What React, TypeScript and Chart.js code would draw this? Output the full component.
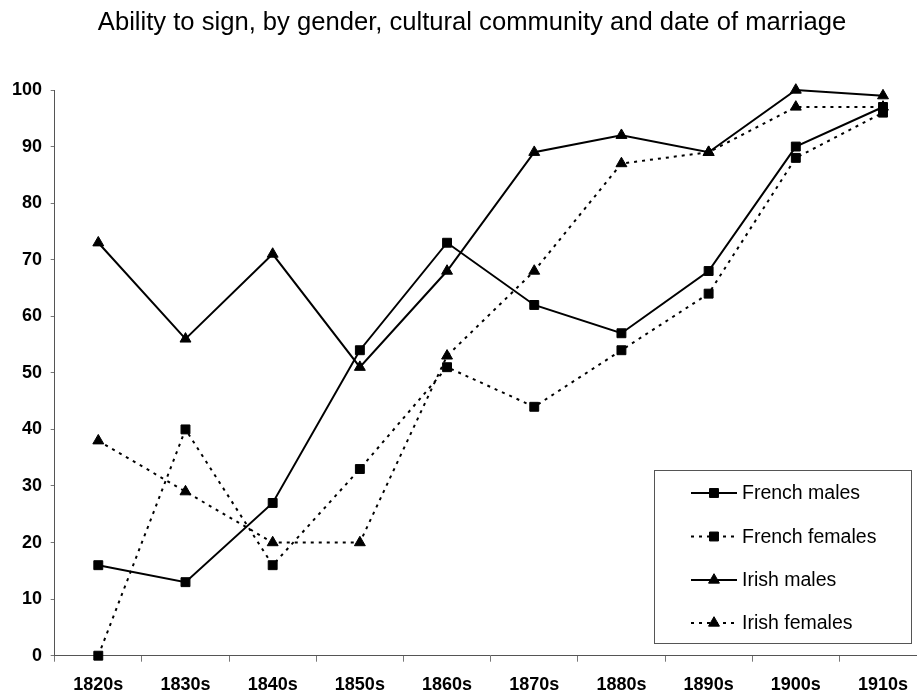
import React, { useEffect, useRef } from "react";
import { Chart, registerables } from "chart.js";

Chart.register(...registerables);

const titleText = "Ability to sign, by gender, cultural community and date of marriage";
const decades = ["1820s", "1830s", "1840s", "1850s", "1860s", "1870s", "1880s", "1890s", "1900s", "1910s"];
const seriesNames = ["French males", "French females", "Irish males", "Irish females"];
const frenchMales = [16, 13, 27, 54, 73, 62, 57, 68, 90, 97];
const frenchFemales = [0, 40, 16, 33, 51, 44, 54, 64, 88, 96];
const irishMales = [73, 56, 71, 51, 68, 89, 92, 89, 100, 99];
const irishFemales = [38, 29, 20, 20, 53, 68, 87, 89, 97, 97];
const yMin = 0;
const yMax = 100;
const yStep = 10;

const FONT = "'Liberation Sans', Arial, Helvetica, sans-serif";
const DOTS = [3, 5];

const titlePlugin = {
  id: "titlePlugin",
  afterDraw(chart: any) {
    const ctx = chart.ctx as CanvasRenderingContext2D;
    ctx.save();
    ctx.fillStyle = "#000000";
    ctx.font = `25.6px ${FONT}`;
    ctx.textAlign = "center";
    ctx.textBaseline = "middle";
    ctx.fillText(titleText, 472, 23);
    ctx.restore();
  },
};

const boxLegend = {
  id: "boxLegend",
  afterDraw(chart: any) {
    const ctx = chart.ctx as CanvasRenderingContext2D;
    const ca = chart.chartArea;
    const right = ca.right - 15.6;
    const bottom = ca.bottom - 12.7;
    const w = 257;
    const h = 173;
    const left = right - w;
    const top = bottom - h;
    ctx.save();
    ctx.fillStyle = "#ffffff";
    ctx.fillRect(left, top, w, h);
    ctx.strokeStyle = "#555555";
    ctx.lineWidth = 1;
    ctx.strokeRect(Math.round(left) + 0.5, Math.round(top) + 0.5, Math.round(w), Math.round(h));
    const rows = [23, 66.5, 110, 153];
    chart.data.datasets.forEach((ds: any, i: number) => {
      const cy = top + rows[i];
      const x1 = left + 37;
      const x2 = left + 83;
      const cx = left + 60;
      ctx.save();
      ctx.strokeStyle = ds.borderColor;
      ctx.lineWidth = ds.borderWidth;
      ctx.setLineDash(ds.borderDash || []);
      ctx.beginPath();
      ctx.moveTo(x1, cy);
      ctx.lineTo(x2, cy);
      ctx.stroke();
      ctx.restore();
      ctx.save();
      ctx.fillStyle = ds.pointBackgroundColor;
      ctx.strokeStyle = ds.pointBorderColor;
      ctx.lineWidth = 1;
      const r = ds.pointRadius;
      ctx.beginPath();
      if (ds.pointStyle === "triangle") {
        for (let k = 0; k < 3; k++) {
          const a = (k * 2 * Math.PI) / 3;
          const px = cx + Math.sin(a) * r;
          const py = cy - Math.cos(a) * r;
          if (k === 0) ctx.moveTo(px, py);
          else ctx.lineTo(px, py);
        }
        ctx.closePath();
      } else {
        const s = Math.SQRT1_2 * r;
        ctx.rect(cx - s, cy - s, 2 * s, 2 * s);
      }
      ctx.fill();
      ctx.stroke();
      ctx.restore();
      ctx.fillStyle = "#000000";
      ctx.font = `19.5px ${FONT}`;
      ctx.textAlign = "left";
      ctx.textBaseline = "middle";
      ctx.fillText(ds.label, left + 88, cy + 1);
    });
    ctx.restore();
  },
};

export default function App() {
  const ref = useRef<HTMLCanvasElement | null>(null);

  useEffect(() => {
    if (!ref.current) return;
    const mk = (label: string, data: number[], dotted: boolean, style: string) => ({
      label,
      data,
      borderColor: "#000000",
      backgroundColor: "#000000",
      borderWidth: 2,
      borderDash: dotted ? DOTS : [],
      pointStyle: style,
      pointRadius: 6.3,
      pointHoverRadius: 6.3,
      pointBackgroundColor: "#000000",
      pointBorderColor: "#000000",
      pointBorderWidth: 1,
      tension: 0,
      fill: false,
      clip: false as any,
    });
    const chart = new Chart(ref.current, {
      type: "line",
      data: {
        labels: decades,
        datasets: [
          mk(seriesNames[0], frenchMales, false, "rect"),
          mk(seriesNames[1], frenchFemales, true, "rect"),
          mk(seriesNames[2], irishMales, false, "triangle"),
          mk(seriesNames[3], irishFemales, true, "triangle"),
        ],
      },
      options: {
        responsive: false,
        animation: false,
        devicePixelRatio: 1,
        layout: { padding: { left: 0, right: 8.4, top: 90, bottom: 0 } },
        plugins: {
          legend: { display: false },
          tooltip: { enabled: false },
          title: { display: false },
        },
        scales: {
          x: {
            type: "category",
            offset: true,
            afterFit: (s: any) => {
              s.height = 40.3;
            },
            grid: {
              offset: true,
              drawOnChartArea: false,
              drawTicks: true,
              tickLength: 6,
              color: "#777777",
            },
            border: { display: true, color: "#555555", width: 1 },
            ticks: {
              color: "#000000",
              padding: 12.5,
              maxRotation: 0,
              autoSkip: false,
              font: { family: FONT, size: 18, weight: "bold", lineHeight: 1.2 },
            },
          },
          y: {
            min: yMin,
            max: yMax,
            afterFit: (s: any) => {
              s.width = 54.7;
            },
            grid: {
              drawOnChartArea: false,
              drawTicks: true,
              tickLength: 4,
              color: "#777777",
            },
            border: { display: true, color: "#555555", width: 1 },
            ticks: {
              stepSize: yStep,
              color: "#000000",
              padding: 8.7,
              font: { family: FONT, size: 18, weight: "bold", lineHeight: 1.2 },
            },
          },
        },
      },
      plugins: [titlePlugin, boxLegend],
    });
    return () => chart.destroy();
  }, []);

  return (
    <div
      style={{
        position: "fixed",
        left: 0,
        top: 0,
        width: 917,
        height: 696,
        overflow: "hidden",
        background: "#ffffff",
      }}
    >
      <canvas ref={ref} width={935} height={696} style={{ display: "block", width: 935, height: 696 }} />
    </div>
  );
}
